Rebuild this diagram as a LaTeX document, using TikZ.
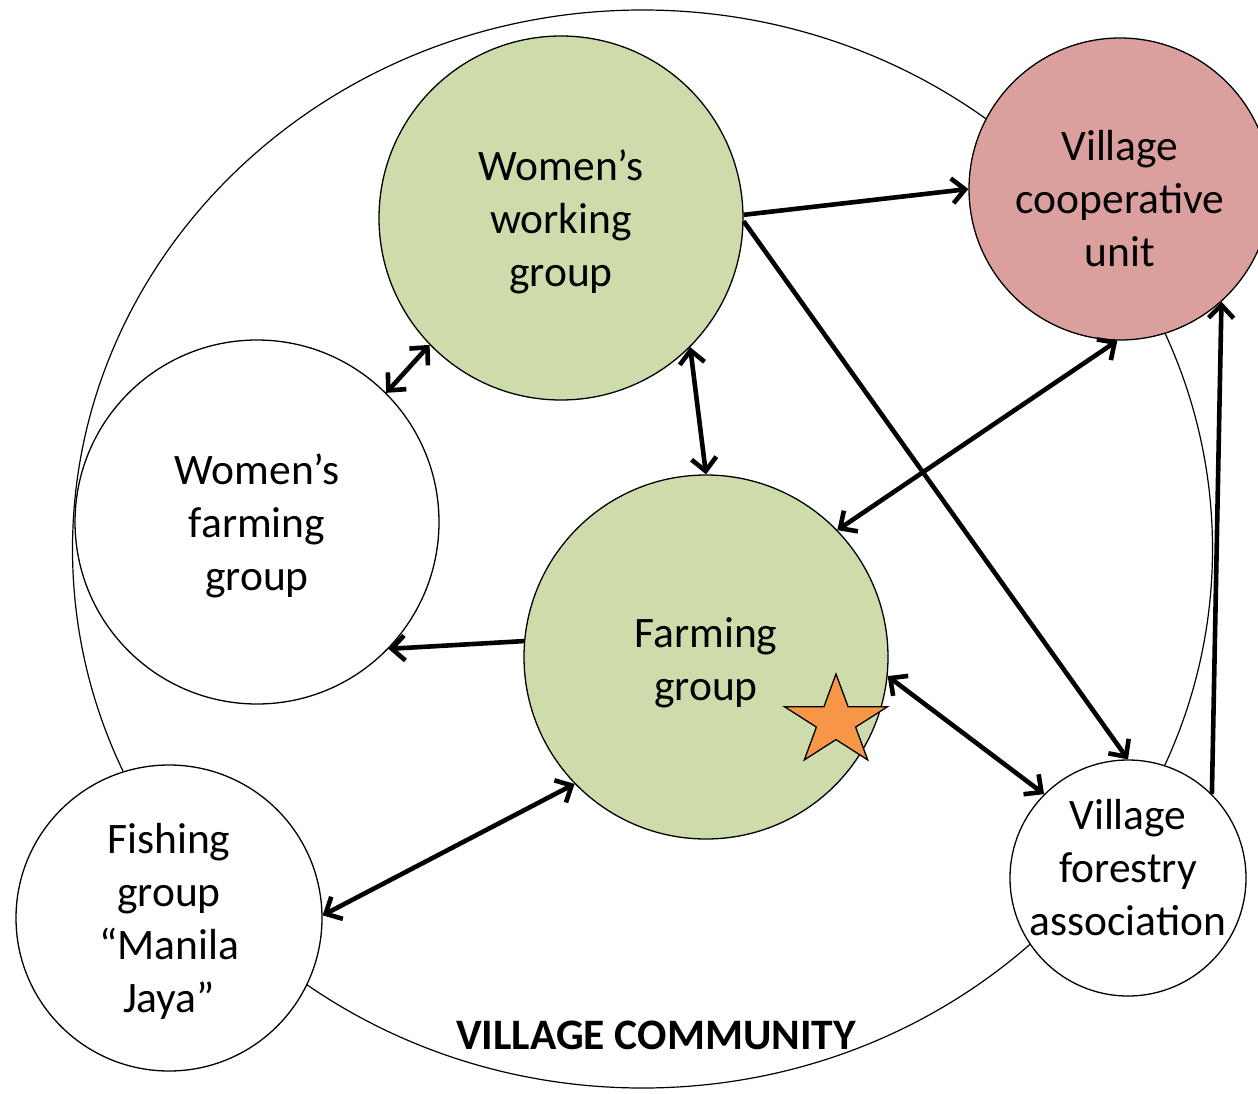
\documentclass[tikz,border=0pt]{standalone}
\usepackage{fontspec}
\setmainfont{Carlito}
\usetikzlibrary{arrows.meta}
\definecolor{grp}{RGB}{205,220,170}
\definecolor{coopc}{RGB}{219,160,158}
\definecolor{starc}{RGB}{247,150,70}
\tikzset{
  grpcircle/.style={circle, draw=black, line width=1.3pt, inner sep=0pt},
  lbl/.style={align=center, font=\fontsize{43.5}{53}\selectfont, inner sep=0pt},
  barb/.tip={Straight Barb[length=13pt,width=25pt,line width=4.6pt]},
  link/.style={line width=4.6pt, -barb},
  dlink/.style={line width=4.6pt, barb-barb},
}
\begin{document}
\begin{tikzpicture}[x=1pt,y=-1pt]
\useasboundingbox (0,0) rectangle (1258,1094);
\fill[white] (0,0) rectangle (1258,1094);
% village community
\draw[line width=1.2pt] (642.5,549) ellipse [x radius=570pt, y radius=539pt];
\node[lbl, font=\fontsize{43.5}{53}\selectfont\bfseries] (vc) at (656,1035) {VILLAGE COMMUNITY};
% circles
\node[grpcircle, fill=grp, minimum size=364pt] (wwg) at (561,218) {};
\node[grpcircle, fill=coopc, minimum size=302pt] (coop) at (1120,189) {};
\node[grpcircle, fill=white, minimum size=364pt] (wfg) at (257,522) {};
\node[grpcircle, fill=grp, minimum size=364pt] (fg) at (706,657) {};
\node[grpcircle, fill=white, minimum size=306pt] (fish) at (169,918) {};
\node[grpcircle, fill=white, minimum size=236pt] (fa) at (1128,878) {};
% texts
\node[lbl] (wwgt) at (561,222) {Women’s\\working\\group};
\node[lbl] (coopt) at (1120,199) {Village\\cooperative\\unit};
\node[lbl] (wfgt) at (257,526) {Women’s\\farming\\group};
\node[lbl] (fgt) at (706,663) {Farming\\group};
\node[lbl] (fisht) at (169,921) {Fishing\\group\\“Manila\\Jaya”};
\node[lbl] (fat) at (1128,868) {Village\\forestry\\association};
% star
\draw[fill=starc, line width=1.3pt, line join=miter]
  (836,674) -- (823.9,706.8) -- (784.6,706.8) -- (816.4,727.1) -- (804.3,759.9)
  -- (836,739.6) -- (867.7,759.9) -- (855.6,727.1) -- (887.4,706.8) -- (848.1,706.8) -- cycle;
% connectors
\draw[link] (wwg.1) -- (coop.180);
\draw[link] (wwg.-1) -- (fa.90);
\draw[dlink] (wwg.224) -- (wfg.45);
\draw[dlink] (wwg.-45) -- (fg.90);
\draw[dlink] (coop.-91) -- (fg.44);
\draw[link] (fa.45) -- (coop.-48);
\draw[link] (fg.175) -- (wfg.-44);
\draw[dlink] (fg.224) -- (fish.1);
\draw[dlink] (fg.-6) -- (fa.135);
\end{tikzpicture}
\end{document}
